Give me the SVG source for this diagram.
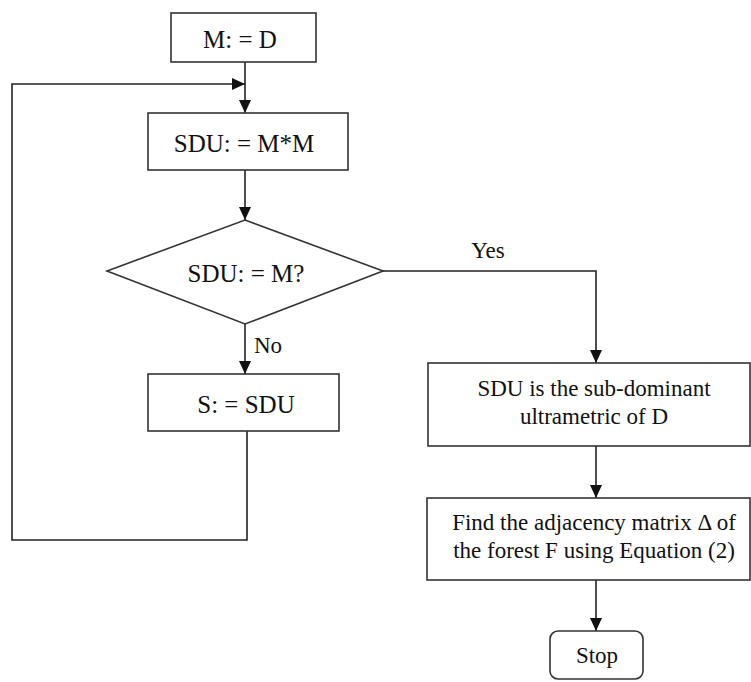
<svg xmlns="http://www.w3.org/2000/svg" width="751" height="682" viewBox="0 0 751 682">
<style>
.box{fill:#fff;stroke:#333;stroke-width:1.6}
.ln{fill:none;stroke:#222;stroke-width:1.6}
.t{font-family:"Liberation Serif","Times New Roman",serif;fill:#111;text-anchor:middle;font-size:23px}
.tl{font-size:25px}
</style>
<defs>
<marker id="ad" markerWidth="13" markerHeight="13" refX="13" refY="6.5" orient="auto" markerUnits="userSpaceOnUse"><path d="M0,0.5 L13,6.5 L0,12.5 Z" fill="#111"/></marker>
</defs>
<rect width="751" height="682" fill="#fff"/>
<g id="connectors">
<path class="ln" d="M245,62 V113" marker-end="url(#ad)"/>
<path class="ln" d="M247,431 V540 H12 V84 H245" marker-end="url(#ad)"/>
<path class="ln" d="M245,170 V220" marker-end="url(#ad)"/>
<path class="ln" d="M245,324 V374" marker-end="url(#ad)"/>
<path class="ln" d="M383,271 H596 V363" marker-end="url(#ad)"/>
<path class="ln" d="M596,446 V498" marker-end="url(#ad)"/>
<path class="ln" d="M596,580 V631" marker-end="url(#ad)"/>
<text class="t" x="488" y="258">Yes</text>
<text class="t" x="268" y="353">No</text>
</g>
<g id="n1"><rect class="box" x="171" y="13" width="145" height="49"/><text class="t tl" x="240" y="48">M: = D</text></g>
<g id="n2"><rect class="box" x="148" y="113" width="200" height="57"/><text class="t tl" x="244" y="152">SDU: = M*M</text></g>
<g id="n3"><polygon class="box" points="245,220 383,271 245,324 107,271"/><text class="t tl" x="246" y="282">SDU: = M?</text></g>
<g id="n4"><rect class="box" x="148" y="374" width="191" height="57"/><text class="t tl" x="246" y="413">S: = SDU</text></g>
<g id="n5"><rect class="box" x="428" y="363" width="322" height="83"/><text class="t" x="594" y="396">SDU is the sub-dominant</text><text class="t" x="594" y="424">ultrametric of D</text></g>
<g id="n6"><rect class="box" x="427" y="498" width="323" height="82"/><text class="t" x="594" y="530">Find the adjacency matrix Δ of</text><text class="t" x="594" y="558">the forest F using Equation (2)</text></g>
<g id="n7"><rect class="box" x="550" y="631" width="93" height="48" rx="8"/><text class="t" x="597" y="663">Stop</text></g>
</svg>
